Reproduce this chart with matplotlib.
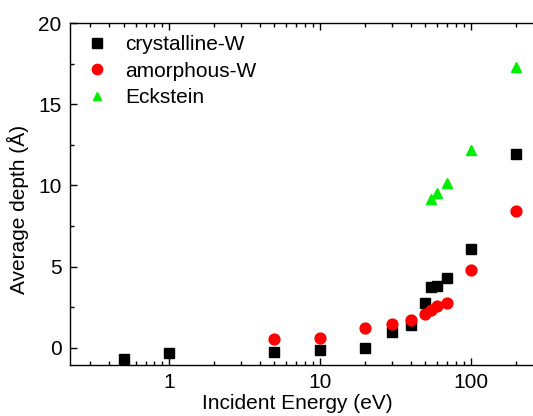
import matplotlib
matplotlib.use("Agg")
import matplotlib.pyplot as plt
from matplotlib.ticker import LogLocator, MultipleLocator, FixedLocator, NullFormatter

plt.rcParams["font.family"] = ["Liberation Sans", "DejaVu Sans"]

# crystalline-W
cryst_e = [0.5, 1, 5, 10, 20, 30, 40, 50, 55, 60, 70, 100, 200]
cryst_d = [-0.70, -0.29, -0.23, -0.12, 0.02, 1.0, 1.42, 2.75, 3.77, 3.83, 4.33, 6.07, 11.94]
# amorphous-W
amor_e = [5, 10, 20, 30, 40, 50, 55, 60, 70, 100, 200]
amor_d = [0.55, 0.63, 1.2, 1.45, 1.74, 2.09, 2.31, 2.56, 2.74, 4.77, 8.42]
# Eckstein
eck_e = [55, 60, 70, 100, 200]
eck_d = [9.15, 9.56, 10.17, 12.16, 17.28]

fig = plt.figure(figsize=(5.33, 4.16), dpi=100)
ax = fig.add_axes([0.131, 0.1226, 0.887, 0.822])

ax.plot(cryst_e, cryst_d, "s", color="black", ms=7.0, label="crystalline-W")
ax.plot(amor_e, amor_d, "o", color="red", ms=7.8, label="amorphous-W")
ax.plot(eck_e, eck_d, "^", color="#00ee00", ms=6.5, label="Eckstein")

ax.set_xscale("log")
ax.set_xlim(0.22, 300)
ax.set_ylim(-1.05, 20)
ax.xaxis.set_major_locator(FixedLocator([1, 10, 100]))
ax.xaxis.set_major_formatter(matplotlib.ticker.FuncFormatter(lambda v, p: "%g" % v))
ax.xaxis.set_minor_locator(LogLocator(base=10, subs=range(2, 10), numticks=20))
ax.xaxis.set_minor_formatter(NullFormatter())
ax.yaxis.set_major_locator(MultipleLocator(5))
ax.yaxis.set_minor_locator(MultipleLocator(2.5))

ax.tick_params(which="both", direction="in", top=True, right=False, labelsize=15, width=1.0)
ax.tick_params(which="major", length=5, pad=6)
ax.tick_params(which="minor", length=3)
for s in ax.spines.values():
    s.set_linewidth(1.0)

ax.set_xlabel("Incident Energy (eV)", fontsize=15)
ax.set_ylabel("Average depth (Å)", fontsize=15)
ax.xaxis.set_label_coords(0.481, -0.086)
ax.yaxis.set_label_coords(-0.087, 0.456)

ax.legend(loc="upper left", frameon=False, fontsize=15, handletextpad=0.75,
          labelspacing=0.37, borderaxespad=0.0, handlelength=1.2,
          markerscale=0.95, bbox_to_anchor=(0.014, 0.99))

fig.savefig("out.png", dpi=100)
